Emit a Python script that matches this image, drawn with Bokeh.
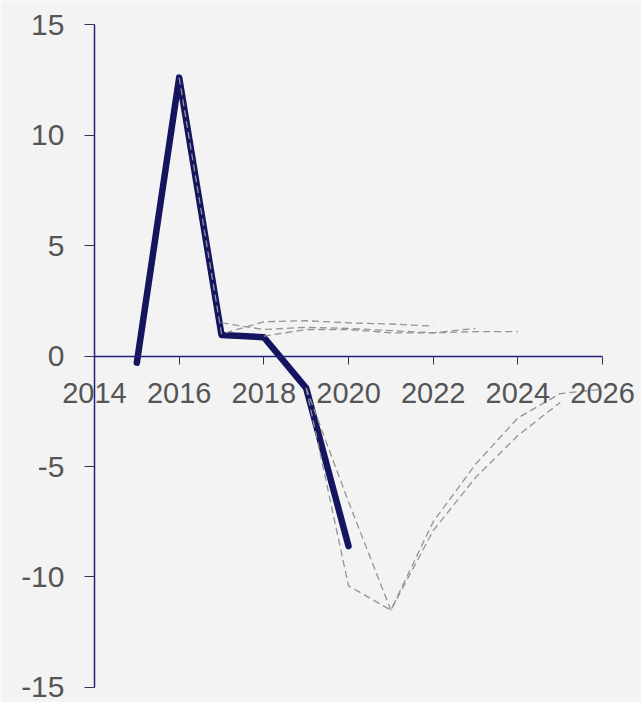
from bokeh.plotting import figure
from bokeh.models import Range1d, FixedTicker, PrintfTickFormatter
from bokeh.embed import file_html
from bokeh.resources import INLINE

# Actual outturn
years_actual = [2015, 2016, 2017, 2018, 2019, 2020]
actual = [-0.3, 12.6, 0.95, 0.85, -1.45, -8.6]

# Forecast vintages (dashed)
f2016_x = [2016, 2017, 2018, 2019, 2020, 2021, 2022]
f2016_y = [12.6, 1.0, 1.55, 1.6, 1.5, 1.45, 1.35]
f2017_x = [2017, 2018, 2019, 2020, 2021, 2022, 2023]
f2017_y = [1.5, 1.2, 1.3, 1.25, 1.15, 1.05, 1.25]
f2018_x = [2018, 2019, 2020, 2021, 2022, 2023, 2024]
f2018_y = [0.9, 1.2, 1.2, 1.05, 1.05, 1.1, 1.1]
f2019_x = [2019, 2020, 2021, 2022, 2023, 2024, 2025]
f2019_y = [-1.45, -10.4, -11.5, -7.9, -5.5, -3.6, -2.1]
f2020_x = [2019, 2020, 2021, 2022, 2023, 2024, 2025, 2026]
f2020_y = [-1.45, -6.6, -11.5, -7.5, -4.9, -2.8, -1.7, -1.5]

x_ticks = [2014, 2016, 2018, 2020, 2022, 2024, 2026]
y_ticks = [-15, -10, -5, 0, 5, 10, 15]

BG = "#f3f3f3"
p = figure(width=641, height=702, output_backend="svg", toolbar_location=None,
           x_range=Range1d(2011.78, 2026.92), y_range=Range1d(-15.68, 16.09),
           background_fill_color=BG, border_fill_color=BG, min_border=0)
p.outline_line_color = None
p.grid.visible = False

p.line(years_actual, actual, line_color="#14145f", line_width=6.5, line_cap="round", line_join="round")
for xs, ys in [(f2016_x, f2016_y), (f2017_x, f2017_y), (f2018_x, f2018_y), (f2019_x, f2019_y), (f2020_x, f2020_y)]:
    p.line(xs, ys, line_color="#949494", line_width=1.3, line_dash="7 4")

xa = p.xaxis[0]
xa.fixed_location = 0
xa.bounds = (2014, 2026)
xa.ticker = FixedTicker(ticks=x_ticks)
xa.formatter = PrintfTickFormatter(format="%d")
xa.axis_line_color = "#20207a"
xa.axis_line_width = 1.5
xa.major_tick_line_color = "#333355"
xa.major_tick_out = 8
xa.major_tick_in = 0
xa.minor_tick_line_color = None
xa.major_label_text_font = "Liberation Sans"
xa.major_label_text_font_size = "29px"
xa.major_label_text_color = "#555555"
xa.major_label_standoff = 19

ya = p.yaxis[0]
ya.fixed_location = 2014
ya.bounds = (-15, 15)
ya.ticker = FixedTicker(ticks=y_ticks)
ya.formatter = PrintfTickFormatter(format="%d")
ya.axis_line_color = "#20207a"
ya.axis_line_width = 1.5
ya.major_tick_line_color = "#333355"
ya.major_tick_out = 10
ya.major_tick_in = 0
ya.minor_tick_line_color = None
ya.major_label_text_font = "Liberation Sans"
ya.major_label_text_font_size = "30px"
ya.major_label_text_color = "#555555"
ya.major_label_standoff = 20

open("out.html", "w").write(file_html(p, INLINE))
